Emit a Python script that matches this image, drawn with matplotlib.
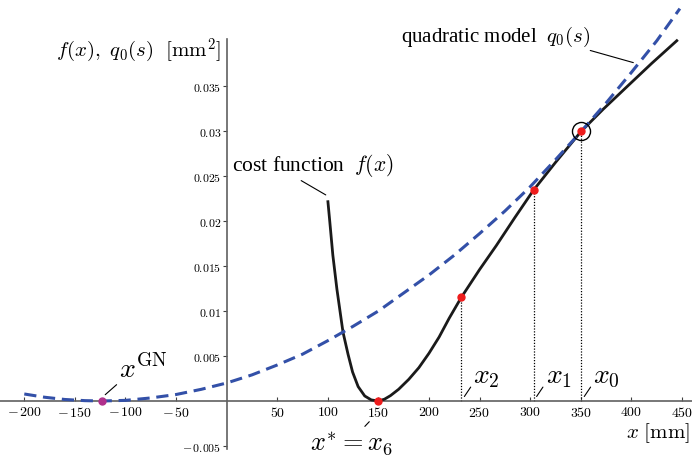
import matplotlib
matplotlib.use("Agg")
import matplotlib.pyplot as plt
import numpy as np

plt.rcParams['font.family'] = 'serif'
plt.rcParams['font.serif'] = ['Liberation Serif', 'DejaVu Serif']
plt.rcParams['mathtext.fontset'] = 'cm'

# cost function f(x) [mm], [mm^2]
cost_x = [100, 102, 105, 109, 115, 120, 124.5, 130, 136.5, 143, 150, 156, 162,
          170, 180, 190, 200, 210, 220, 232, 250, 266.5, 285, 303.4, 325,
          350.5, 372, 395, 420, 446]
cost_y = [0.0223, 0.0199, 0.0162, 0.01244, 0.00767, 0.0052, 0.00322, 0.0016,
          0.00056, 0.00012, 0.0, 0.0002, 0.0006, 0.0013, 0.0024, 0.0037,
          0.0053, 0.0071, 0.0092, 0.01152, 0.0146, 0.01726, 0.0204, 0.02344,
          0.0265, 0.02997, 0.0324, 0.03485, 0.0375, 0.04014]

# quadratic model q0(s) around x0
quad_x = [-200, -180, -160, -140, -123.5, -100, -75, -50, -25, 0, 25, 50, 75,
          100, 125, 150, 175, 200, 225, 250, 275, 300, 325, 350, 375, 400,
          425, 448]
quad_y = [0.00078, 0.00042, 0.00017, 0.00004, 0.0, 0.00007, 0.00034, 0.00072,
          0.0013, 0.0020, 0.0029, 0.0040, 0.0052, 0.0067, 0.0083, 0.0100,
          0.0120, 0.0140, 0.0162, 0.0186, 0.0211, 0.0238, 0.0268, 0.0299,
          0.0331, 0.0365, 0.0400, 0.0436]

# iterates x0, x1, x2, x6 = x*
iter_x = [350.5, 303.4, 232, 150]
iter_y = [0.02997, 0.02344, 0.01152, 0.0]
gn_x = -123.5

x_ticks = [-200, -150, -100, -50, 50, 100, 150, 200, 250, 300, 350, 400, 450]
y_ticks = [-0.005, 0.005, 0.01, 0.015, 0.02, 0.025, 0.03, 0.035]

fig = plt.figure(figsize=(6.92, 4.56), dpi=100)
ax = fig.add_axes([0, 0, 1, 1])
ax.set_xlim(-224, 460)
ax.set_ylim(-0.006, 0.04467)

# spines through the origin
for s in ['top', 'right']:
    ax.spines[s].set_visible(False)
ax.spines['left'].set_position(('data', 0))
ax.spines['bottom'].set_position(('data', 0))
ax.spines['left'].set_bounds(-0.0053, 0.0402)
for s in ['left', 'bottom']:
    ax.spines[s].set_color('#606060')
    ax.spines[s].set_linewidth(1.2)

ax.set_xticks(x_ticks)
ax.set_xticklabels([r'$%s$' % ('-\\,%d' % -v if v < 0 else '%d' % v) for v in x_ticks])
ax.set_yticks(y_ticks)
ax.set_yticklabels([r'$%s$' % ('-\\,%g' % -v if v < 0 else '%g' % v) for v in y_ticks])
ax.tick_params(axis='x', direction='in', length=3, width=0.8, color='#404040',
               labelsize=10, pad=3)
ax.tick_params(axis='y', direction='out', length=3, width=0.8, color='#404040',
               labelsize=8.5, pad=1)

# dotted verticals at the iterates
for i in range(3):
    ax.plot([iter_x[i], iter_x[i]], [0, iter_y[i]], color='black', lw=0.9,
            ls=(0, (1, 1.3)), zorder=2)

ax.plot(cost_x, cost_y, color='#1a1a1a', lw=2.0, zorder=3,
        solid_capstyle='butt')
ax.plot(quad_x, quad_y, color='#3350a8', lw=2.2, ls=(0, (4, 2.2)), zorder=4)

ax.plot(iter_x, iter_y, 'o', color='#ee1c1c', ms=5, zorder=5)
ax.plot([iter_x[0]], [iter_y[0]], 'o', mfc='none', mec='black', mew=1.0,
        ms=13, zorder=6)
ax.plot([gn_x], [0], 'o', color='#b0308c', ms=5, zorder=5)

# axis labels
ax.text(-5, 0.039, r'$f(x),\ q_0(s)\ \ [\mathrm{mm}^2]$', fontsize=15,
        ha='right', va='center')
ax.text(458, -0.0035, r'$x\ [\mathrm{mm}]$', fontsize=15, ha='right',
        va='center')

# annotations
ax.annotate(r'cost function  $f(x)$', xy=(98, 0.0229), xytext=(5, 0.0263),
            fontsize=15.5, va='center', ha='left',
            arrowprops=dict(arrowstyle='-', lw=0.8, color='black',
                            shrinkA=0, shrinkB=0, relpos=(0.4, 0)))
ax.annotate(r'quadratic model  $q_0(s)$', xy=(402, 0.0376),
            xytext=(172, 0.0406), fontsize=15, va='center', ha='left',
            arrowprops=dict(arrowstyle='-', lw=0.8, color='black',
                            shrinkA=0, shrinkB=0, relpos=(0.95, 0)))
ax.annotate(r'$x^{\mathrm{GN}}$', xy=(-120, 0.0007), xytext=(-106, 0.0020),
            fontsize=20, va='bottom', ha='left',
            arrowprops=dict(arrowstyle='-', lw=0.8, color='black',
                            shrinkA=0, shrinkB=0, relpos=(0.05, 0.1)))
ax.annotate(r'$x^{*} = x_6$', xy=(141, -0.0023), xytext=(82, -0.0046),
            fontsize=19, va='center', ha='left',
            arrowprops=dict(arrowstyle='-', lw=0.8, color='black',
                            shrinkA=0, shrinkB=0, relpos=(0.62, 0.95)))
for i, name in enumerate(['$x_0$', '$x_1$', '$x_2$']):
    ax.annotate(name, xy=(iter_x[i] + 3, 0.0005), xytext=(iter_x[i] + 12, 0.0027),
                fontsize=20, va='center', ha='left',
                arrowprops=dict(arrowstyle='-', lw=0.8, color='black',
                                shrinkA=0, shrinkB=0, relpos=(0, 0.25)))

fig.savefig('out.png', dpi=100)
